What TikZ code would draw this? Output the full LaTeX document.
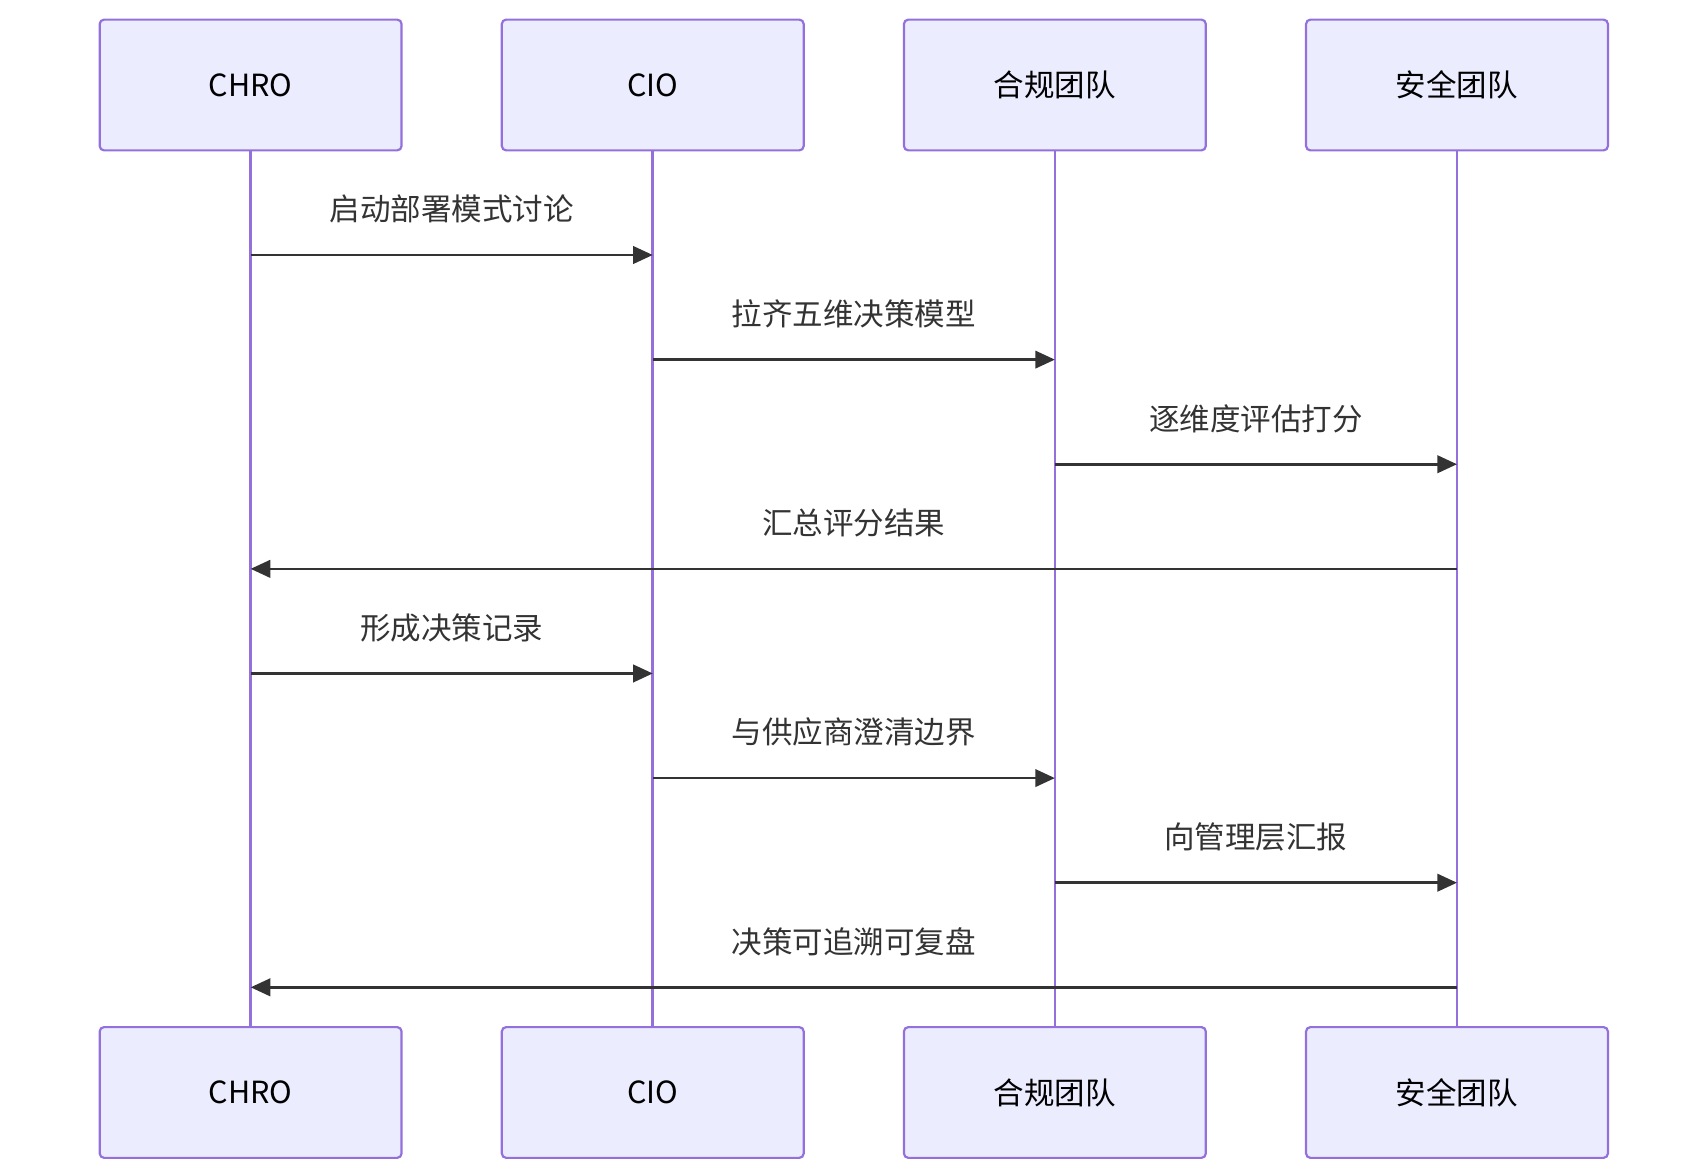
\documentclass[tikz,border=0pt]{standalone}
\usepackage{fontspec}
\setmainfont{Noto Sans CJK SC}
\usetikzlibrary{arrows.meta,calc}
\definecolor{actfill}{HTML}{ECECFF}
\definecolor{actline}{HTML}{9370DB}
\definecolor{msg}{HTML}{333333}
\begin{document}
\begin{tikzpicture}[x=0.5pt,y=-0.5pt,
  actor/.style={draw=actline,fill=actfill,line width=1pt,rounded corners=2pt,minimum width=138.5pt,minimum height=60pt,inner sep=0pt,font=\fontsize{14}{16}\selectfont,text=black},
  life/.style={draw=actline,line width=1.2pt},
  msgline/.style={draw=msg,line width=1.2pt,-{Triangle[length=9pt,width=8pt]}},
  lbl/.style={font=\fontsize{14}{16}\selectfont,text=msg}]
\useasboundingbox (0,0) rectangle (1560,1077);
\foreach \n/\x/\t in {a/230/CHRO,b/599/CIO,c/968/合规团队,d/1337/安全团队}{
  \draw[life] (\x,138) -- (\x,943);
  \node[actor] (\n top) at (\x,78) {\t};
  \node[actor] (\n bot) at (\x,1002.5) {\t};
}
\foreach \f/\t/\y/\s in {230/599/234/启动部署模式讨论,599/968/330/拉齐五维决策模型,968/1337/426/逐维度评估打分,1337/230/522/汇总评分结果,230/599/618/形成决策记录,599/968/714/与供应商澄清边界,968/1337/810/向管理层汇报,1337/230/906/决策可追溯可复盘}{
  \coordinate (s) at (\f,\y);
  \coordinate (e) at (\t,\y);
  \draw[msgline] (s) -- (e);
  \node[lbl] (l\y) at ($(s)!0.5!(e)+(0,-42)$) {\s};
}
\end{tikzpicture}
\end{document}
